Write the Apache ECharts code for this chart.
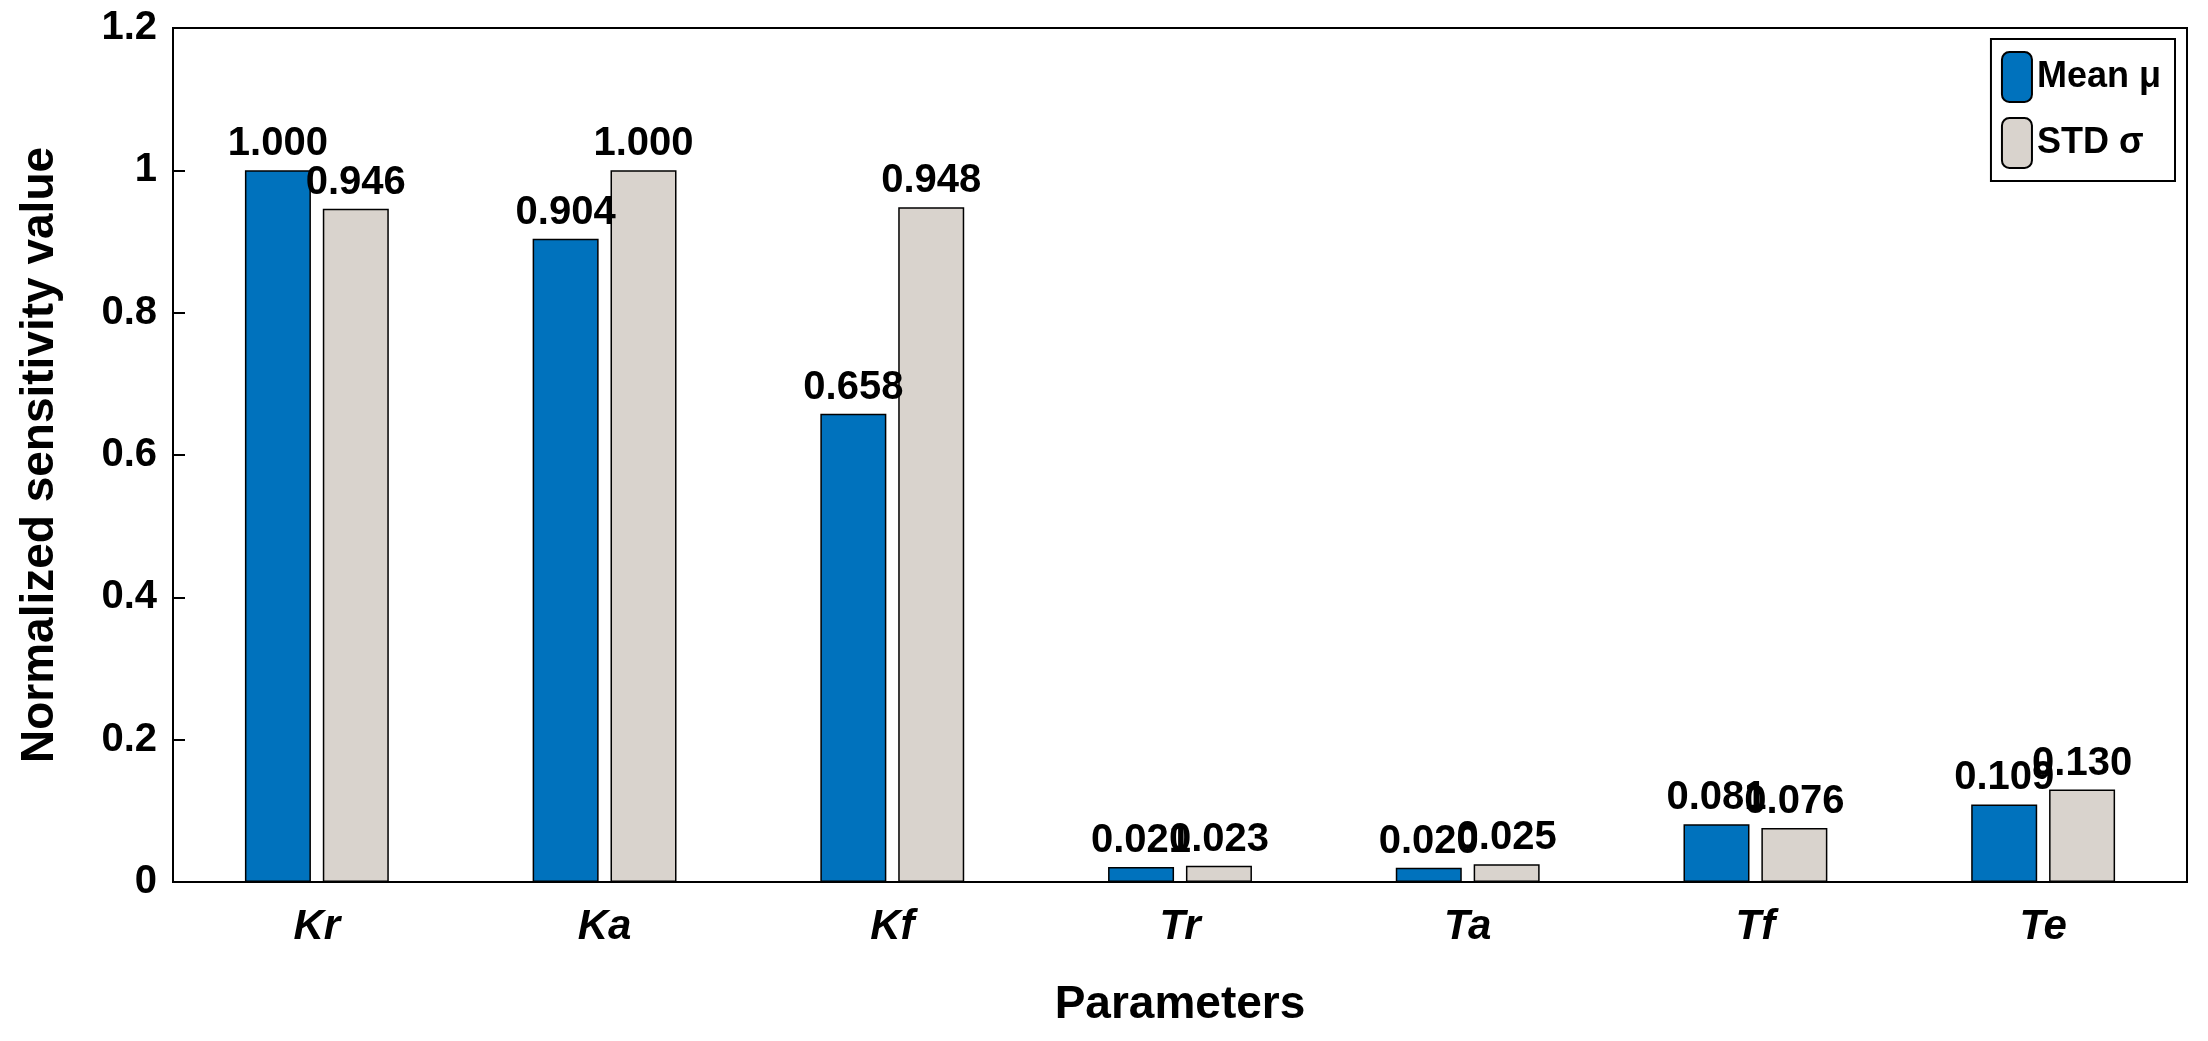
<!DOCTYPE html>
<html><head><meta charset="utf-8">
<script src="https://cdn.jsdelivr.net/npm/echarts@6/dist/echarts.min.js"></script>
<style>html,body{margin:0;padding:0;background:#fff}#c{width:2208px;height:1041px}</style>
</head><body><div id="c"></div>
<script>
const categories = ['Kr','Ka','Kf','Tr','Ta','Tf','Te'];
const meanValues = [1.000, 0.904, 0.658, 0.021, 0.020, 0.081, 0.109];
const stdValues = [0.946, 1.000, 0.948, 0.023, 0.025, 0.076, 0.130];
const yTicks = [0, 0.2, 0.4, 0.6, 0.8, 1, 1.2];

const F = 'Liberation Sans, Arial, sans-serif';
const chart = echarts.init(document.getElementById('c'));
const lbl = {show:true, position:'top', distance:6, color:'#000', fontFamily:F, fontWeight:'bold', fontSize:40,
  formatter: p => p.value.toFixed(3)};
chart.setOption({
  animation:false,
  grid:{left:173, right:21, top:28, bottom:159, show:true, borderColor:'#000', borderWidth:2},
  legend:{right:33, top:39, orient:'vertical', itemWidth:30, itemHeight:50, itemGap:14,
    padding:[12,14,12,10], borderColor:'#000', borderWidth:2, backgroundColor:'#fff',
    textStyle:{fontFamily:F, fontWeight:'bold', fontSize:36, color:'#000'},
    data:[{name:'Mean μ'},{name:'STD σ'}]},
  xAxis:{type:'category', data:categories,
    axisLine:{lineStyle:{color:'#000', width:2}}, axisTick:{show:false},
    axisLabel:{fontFamily:F, fontWeight:'bold', fontStyle:'italic', fontSize:42, color:'#000', margin:24},
    name:'Parameters', nameLocation:'middle', nameGap:100,
    nameTextStyle:{fontFamily:F, fontWeight:'bold', fontSize:46, color:'#000'}},
  yAxis:{type:'value', min:0, max:1.2, interval:0.2,
    axisLine:{show:true, lineStyle:{color:'#000', width:2}},
    axisTick:{show:true, inside:true, length:12, lineStyle:{color:'#000', width:2}},
    splitLine:{show:false},
    axisLabel:{fontFamily:F, fontWeight:'bold', fontSize:40, color:'#000', margin:16,
      formatter:v => { const t = yTicks.find(x => Math.abs(x - v) < 1e-9); return t === undefined ? '' : String(t); }},
    name:'Normalized sensitivity value', nameLocation:'middle', nameGap:110,
    nameTextStyle:{fontFamily:F, fontWeight:'bold', fontSize:46, color:'#000'}},
  series:[
    {name:'Mean μ', type:'bar', data:meanValues, barWidth:66, barGap:'18%',
     itemStyle:{color:'#0072BD', borderColor:'#000', borderWidth:1.5}, label:lbl},
    {name:'STD σ', type:'bar', data:stdValues, barWidth:66,
     itemStyle:{color:'#D9D3CD', borderColor:'#000', borderWidth:1.5}, label:lbl}
  ]
});
</script></body></html>
